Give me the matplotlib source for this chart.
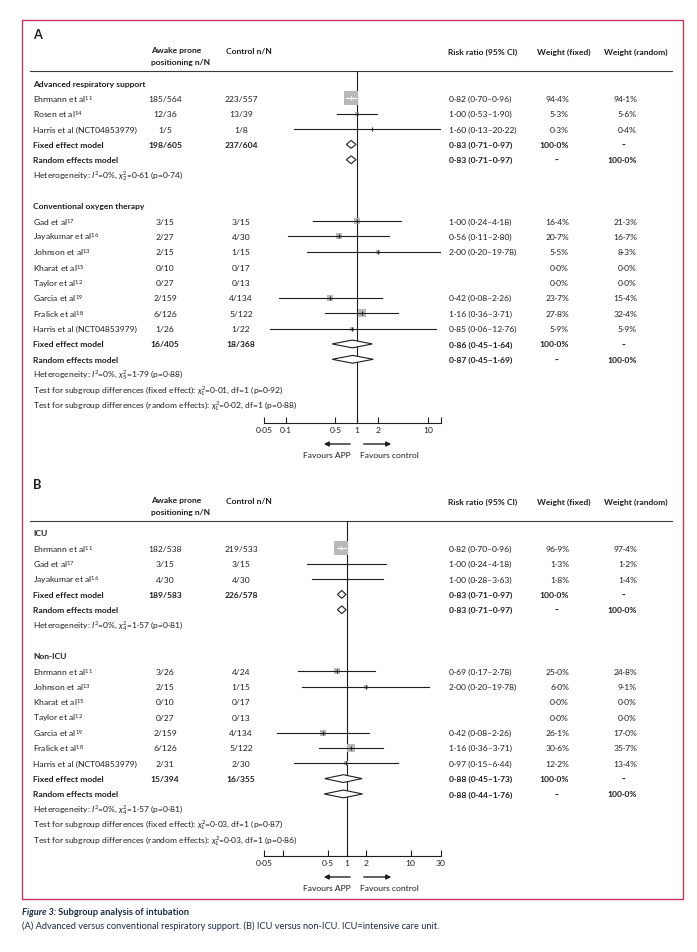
import numpy as np
import matplotlib
matplotlib.use('Agg')
from matplotlib import pyplot as plt
from matplotlib import font_manager
from matplotlib.patches import Polygon, Rectangle
from matplotlib.ticker import NullLocator

installed = {f.name for f in font_manager.fontManager.ttflist}
if 'Liberation Sans Narrow' in installed:
    FONT, FS = 'Liberation Sans Narrow', 6.8
else:
    FONT, FS = 'Lato', 6.1
plt.rcParams['font.family'] = [FONT, 'DejaVu Sans']
plt.rcParams['font.size'] = FS
plt.rcParams['mathtext.fontset'] = 'custom'
plt.rcParams['mathtext.rm'] = FONT
plt.rcParams['mathtext.it'] = FONT + ':italic'
plt.rcParams['mathtext.bf'] = FONT + ':bold'

INK = '#1e1e1e'
BOX = '#b9b9b9'
FRAME = '#c6385d'
CAP = '#1d2b40'

# ---- panel A: advanced respiratory support
adv_study = ['Ehrmann et al', 'Rosen et al', 'Harris et al (NCT04853979)']
adv_ref = ['11', '14', '']
adv_app = ['185/564', '12/36', '1/5']
adv_ctl = ['223/557', '13/39', '1/8']
adv_rr = [0.82, 1.00, 1.60]
adv_lo = [0.70, 0.53, 0.13]
adv_hi = [0.96, 1.90, 20.22]
adv_wf = [94.4, 5.3, 0.3]
adv_wr = [94.1, 5.6, 0.4]
adv_tot = ['198/605', '237/604']
adv_fixed = [0.83, 0.71, 0.97]
adv_random = [0.83, 0.71, 0.97]
adv_het = ['2', '0·61', '0·74']

# ---- panel A: conventional oxygen therapy
cot_study = ['Gad et al', 'Jayakumar et al', 'Johnson et al', 'Kharat et al',
             'Taylor et al', 'Garcia et al', 'Fralick et al',
             'Harris et al (NCT04853979)']
cot_ref = ['17', '16', '13', '15', '12', '19', '18', '']
cot_app = ['3/15', '2/27', '2/15', '0/10', '0/27', '2/159', '6/126', '1/26']
cot_ctl = ['3/15', '4/30', '1/15', '0/17', '0/13', '4/134', '5/122', '1/22']
cot_rr = [1.00, 0.56, 2.00, np.nan, np.nan, 0.42, 1.16, 0.85]
cot_lo = [0.24, 0.11, 0.20, np.nan, np.nan, 0.08, 0.36, 0.06]
cot_hi = [4.18, 2.80, 19.78, np.nan, np.nan, 2.26, 3.71, 12.76]
cot_wf = [16.4, 20.7, 5.5, 0.0, 0.0, 23.7, 27.8, 5.9]
cot_wr = [21.3, 16.7, 8.3, 0.0, 0.0, 15.4, 32.4, 5.9]
cot_tot = ['16/405', '18/368']
cot_fixed = [0.86, 0.45, 1.64]
cot_random = [0.87, 0.45, 1.69]
cot_het = ['5', '1·79', '0·88']
a_tests = [['0·01', '0·92'], ['0·02', '0·88']]

# ---- panel B: ICU
icu_study = ['Ehrmann et al', 'Gad et al', 'Jayakumar et al']
icu_ref = ['11', '17', '16']
icu_app = ['182/538', '3/15', '4/30']
icu_ctl = ['219/533', '3/15', '4/30']
icu_rr = [0.82, 1.00, 1.00]
icu_lo = [0.70, 0.24, 0.28]
icu_hi = [0.96, 4.18, 3.63]
icu_wf = [96.9, 1.3, 1.8]
icu_wr = [97.4, 1.2, 1.4]
icu_tot = ['189/583', '226/578']
icu_fixed = [0.83, 0.71, 0.97]
icu_random = [0.83, 0.71, 0.97]
icu_het = ['4', '1·57', '0·81']

# ---- panel B: non-ICU
nicu_study = ['Ehrmann et al', 'Johnson et al', 'Kharat et al', 'Taylor et al',
              'Garcia et al', 'Fralick et al', 'Harris et al (NCT04853979)']
nicu_ref = ['11', '13', '15', '12', '19', '18', '']
nicu_app = ['3/26', '2/15', '0/10', '0/27', '2/159', '6/126', '2/31']
nicu_ctl = ['4/24', '1/15', '0/17', '0/13', '4/134', '5/122', '2/30']
nicu_rr = [0.69, 2.00, np.nan, np.nan, 0.42, 1.16, 0.97]
nicu_lo = [0.17, 0.20, np.nan, np.nan, 0.08, 0.36, 0.15]
nicu_hi = [2.78, 19.78, np.nan, np.nan, 2.26, 3.71, 6.44]
nicu_wf = [25.0, 6.0, 0.0, 0.0, 26.1, 30.6, 12.2]
nicu_wr = [24.8, 9.1, 0.0, 0.0, 17.0, 35.7, 13.4]
nicu_tot = ['15/394', '16/355']
nicu_fixed = [0.88, 0.45, 1.73]
nicu_random = [0.88, 0.44, 1.76]
nicu_het = ['4', '1·57', '0·81']
b_tests = [['0·03', '0·87'], ['0·03', '0·86']]

a_ticks = [0.05, 0.1, 0.5, 1, 2, 10, 15]
a_ticklabels = ['0·05', '0·1', '0·5', '1', '2', '10', '']
b_ticks = [0.05, 0.1, 0.5, 1, 2, 10, 30]
b_ticklabels = ['0·05', '', '0·5', '1', '2', '10', '30']

W, H = 697, 953
fig = plt.figure(figsize=(W / 100, H / 100), dpi=100)
bg = fig.add_axes([0, 0, 1, 1])
bg.set_xlim(0, W)
bg.set_ylim(H, 0)
bg.axis('off')

STEP = 15.35
X_NAME, X_APP, X_CTL, X_CI, X_WF, X_WR = 33, 165, 241, 449, 569, 637
FA_L, FA_R = 264, 441


def f2(v):
    return f'{v:.2f}'.replace('.', '·')


def pct(v):
    return f'{v:.1f}%'.replace('.', '·')


def ci_text(est, lo, hi):
    return f'{f2(est)} ({f2(lo)}–{f2(hi)})'


def name(y, s, ref='', bold=False):
    label = s + (rf'$^{{{ref}}}$' if ref else '')
    bg.text(X_NAME, y, label, va='center', color=INK,
            weight='bold' if bold else 'normal')


def diamond(fa, y, est, lo, hi):
    h = 3.9
    fa.add_patch(Polygon([(lo, y), (est, y - h), (hi, y), (est, y + h)],
                         closed=True, facecolor='white', edgecolor=INK, lw=0.8))


def group(fa, ppd, y, title, study, ref, app, ctl, rr, lo, hi, wf, wr,
          tot, fixed, rand, het):
    bg.text(X_NAME, y, title, va='center', weight='bold', color=INK)
    y += STEP
    for i in range(len(study)):
        name(y, study[i], ref[i])
        bg.text(X_APP, y, app[i], va='center', ha='center', color=INK)
        bg.text(X_CTL, y, ctl[i], va='center', ha='center', color=INK)
        bg.text(X_WF, y, pct(wf[i]), va='center', ha='right', color=INK)
        bg.text(X_WR, y, pct(wr[i]), va='center', ha='right', color=INK)
        if not np.isnan(rr[i]):
            bg.text(X_CI, y, ci_text(rr[i], lo[i], hi[i]), va='center', color=INK)
            box = 1.35 * np.sqrt(wf[i])
            fa.plot(rr[i], y, marker='s', ms=box * 0.72, color=BOX, mew=0, zorder=3)
            # CI hidden inside the box is drawn in white, as in the original
            inside = ppd * np.log10(hi[i] / lo[i]) < box
            lc = 'white' if inside else INK
            fa.plot([lo[i], hi[i]], [y, y], color=lc, lw=0.8, zorder=4)
            fa.plot(rr[i], y, marker='|', ms=3, mew=0.8, color=lc, zorder=5)
        y += STEP
    # fixed effect
    name(y, 'Fixed effect model', bold=True)
    bg.text(X_APP, y, tot[0], va='center', ha='center', weight='bold', color=INK)
    bg.text(X_CTL, y, tot[1], va='center', ha='center', weight='bold', color=INK)
    bg.text(X_CI, y, ci_text(*fixed), va='center', weight='bold', color=INK)
    bg.text(X_WF, y, '100·0%', va='center', ha='right', weight='bold', color=INK)
    bg.text(X_WR - 13, y, '··', va='center', ha='center', weight='bold', color=INK)
    diamond(fa, y, *fixed)
    y += STEP
    # random effects
    name(y, 'Random effects model', bold=True)
    bg.text(X_CI, y, ci_text(*rand), va='center', weight='bold', color=INK)
    bg.text(X_WF - 12, y, '··', va='center', ha='center', weight='bold', color=INK)
    bg.text(X_WR, y, '100·0%', va='center', ha='right', weight='bold', color=INK)
    diamond(fa, y, *rand)
    y += STEP
    bg.text(X_NAME, y, rf'Heterogeneity: $I^2$=0%, $\chi^2_{{{het[0]}}}$={het[1]} (p={het[2]})',
            va='center', color=INK)
    return y + STEP


def panel(letter, top, axis_y, xmax, ticks, ticklabels, groups, tests):
    bg.text(X_NAME, top - 37, letter, va='center', weight='bold', fontsize=FS * 1.5, color=INK)
    bg.text(151, top - 21, 'Awake prone', va='center', weight='bold', color=INK)
    bg.text(151, top - 10, 'positioning n/N', va='center', weight='bold', color=INK)
    bg.text(226, top - 20, 'Control n/N', va='center', weight='bold', color=INK)
    bg.text(448, top - 20, 'Risk ratio (95% CI)', va='center', weight='bold', color=INK)
    bg.text(537, top - 20, 'Weight (fixed)', va='center', weight='bold', color=INK)
    bg.text(604, top - 20, 'Weight (random)', va='center', weight='bold', color=INK)
    bg.plot([30, 672], [top, top], color='#3a3a3a', lw=0.8)

    fa = fig.add_axes([FA_L / W, 1 - axis_y / H, (FA_R - FA_L) / W, (axis_y - top) / H])
    fa.set_xscale('log')
    fa.set_xlim(0.05, xmax)
    fa.set_ylim(axis_y, top)
    fa.patch.set_alpha(0)
    for s in ['top', 'left', 'right']:
        fa.spines[s].set_visible(False)
    fa.spines['bottom'].set_linewidth(0.8)
    fa.spines['bottom'].set_color(INK)
    fa.set_yticks([])
    fa.set_xticks(ticks)
    fa.set_xticklabels(ticklabels)
    fa.xaxis.set_minor_locator(NullLocator())
    fa.tick_params(axis='x', direction='in', length=4, width=0.8, pad=2.5,
                   labelsize=FS, colors=INK)
    fa.axvline(1, color=INK, lw=0.8, zorder=1)
    ppd = (FA_R - FA_L) / np.log10(xmax / 0.05)

    y = top + 12
    for g in groups:
        y = group(fa, ppd, y, *g) + STEP
    y -= STEP
    bg.text(X_NAME, y, rf'Test for subgroup differences (fixed effect): $\chi^2_1$={tests[0][0]}, df=1 (p={tests[0][1]})',
            va='center', color=INK)
    y += STEP
    bg.text(X_NAME, y, rf'Test for subgroup differences (random effects): $\chi^2_1$={tests[1][0]}, df=1 (p={tests[1][1]})',
            va='center', color=INK)

    ay = axis_y + 21
    bg.annotate('', xy=(321, ay), xytext=(353, ay),
                arrowprops=dict(arrowstyle='-|>', color=INK, lw=1, mutation_scale=7))
    bg.annotate('', xy=(394, ay), xytext=(361, ay),
                arrowprops=dict(arrowstyle='-|>', color=INK, lw=1, mutation_scale=7))
    bg.text(351, ay + 11, 'Favours APP', ha='right', va='center', color=INK)
    bg.text(360, ay + 11, 'Favours control', ha='left', va='center', color=INK)


panel('A', 72, 424, 15, a_ticks, a_ticklabels,
      [['Advanced respiratory support', adv_study, adv_ref, adv_app, adv_ctl,
        adv_rr, adv_lo, adv_hi, adv_wf, adv_wr, adv_tot, adv_fixed, adv_random, adv_het],
       ['Conventional oxygen therapy', cot_study, cot_ref, cot_app, cot_ctl,
        cot_rr, cot_lo, cot_hi, cot_wf, cot_wr, cot_tot, cot_fixed, cot_random, cot_het]],
      a_tests)
panel('B', 522, 857, 30, b_ticks, b_ticklabels,
      [['ICU', icu_study, icu_ref, icu_app, icu_ctl,
        icu_rr, icu_lo, icu_hi, icu_wf, icu_wr, icu_tot, icu_fixed, icu_random, icu_het],
       ['Non-ICU', nicu_study, nicu_ref, nicu_app, nicu_ctl,
        nicu_rr, nicu_lo, nicu_hi, nicu_wf, nicu_wr, nicu_tot, nicu_fixed, nicu_random, nicu_het]],
      b_tests)

bg.add_patch(Rectangle((22, 21), 661, 879, fill=False, edgecolor=FRAME, lw=1))

t = bg.text(22, 913, 'Figure 3:', style='italic', weight='bold', va='center',
            fontsize=FS * 1.1, color=CAP)
bg.annotate(' Subgroup analysis of intubation', xy=(1, 0), xycoords=t, va='bottom',
            ha='left', weight='bold', fontsize=FS * 1.1, color=CAP)
bg.text(22, 926, '(A) Advanced versus conventional respiratory support. (B) ICU versus non-ICU. '
        'ICU=intensive care unit.', va='center', fontsize=FS * 1.1, color=CAP)

fig.savefig('out.png', dpi=100)
